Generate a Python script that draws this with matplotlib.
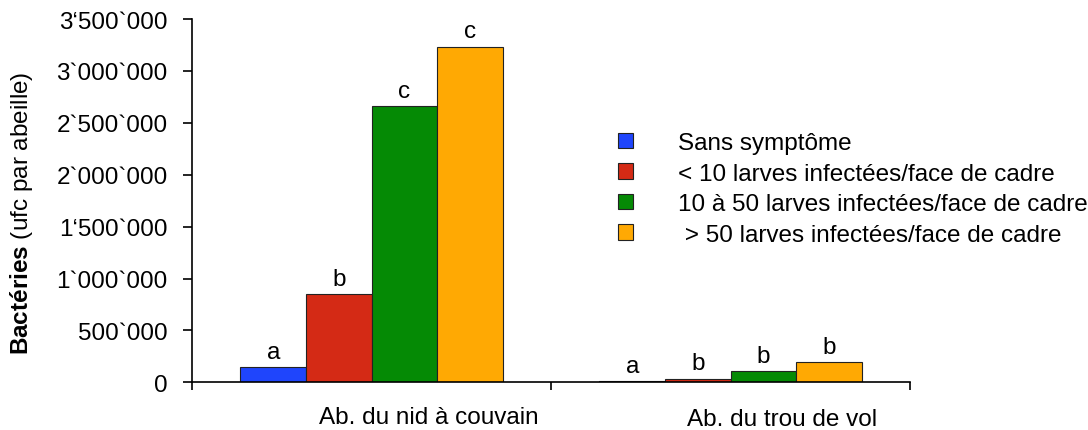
import matplotlib
matplotlib.use("Agg")
import matplotlib.pyplot as plt
import matplotlib.transforms as mtransforms
from matplotlib.patches import Patch
import numpy as np

plt.rcParams['font.family'] = ['Liberation Sans', 'DejaVu Sans']
plt.rcParams['mathtext.fontset'] = 'custom'
plt.rcParams['mathtext.rm'] = 'Liberation Sans'
plt.rcParams['mathtext.bf'] = 'Liberation Sans:bold'

categories = ["Ab. du nid à couvain", "Ab. du trou de vol"]
series_names = ["Sans symptôme",
                "< 10 larves infectées/face de cadre",
                "10 à 50 larves infectées/face de cadre",
                " > 50 larves infectées/face de cadre"]
values = {
    "Sans symptôme": [145000, 8000],
    "< 10": [850000, 36000],
    "10 à 50": [2660000, 112000],
    "> 50": [3235000, 193000],
}
letters = {
    "Sans symptôme": ["a", "a"],
    "< 10": ["b", "b"],
    "10 à 50": ["c", "b"],
    "> 50": ["c", "b"],
}
colors = ["#1F45FC", "#D42A15", "#058A05", "#FFA903"]
edge_colors = ["#222222", "#222222", "#222222", "#222222"]
yticks = [0, 500000, 1000000, 1500000, 2000000, 2500000, 3000000, 3500000]
ytick_labels = ["0", "500`000", "1`000`000", "1‘500`000", "2`000`000",
                "2`500`000", "3`000`000", "3‘500`000"]

FS = 17.5
fig = plt.figure(figsize=(10.88, 4.31), dpi=100)
ax = fig.add_axes([192/1088, 1-383.3/431, (910-192)/1088, (383.3-20)/431])

x = np.arange(len(categories))
width = 0.1825
keys = list(values.keys())
handles = []
for i, k in enumerate(keys):
    pos = x + (i - 1.5) * width
    bars = ax.bar(pos, values[k], width, color=colors[i], edgecolor=edge_colors[i],
                  linewidth=0.8, zorder=2)
    for b, lab in zip(bars, letters[k]):
        ax.annotate(lab, (b.get_x() + b.get_width()/2, b.get_height()),
                    xytext=(0, 3), textcoords="offset points",
                    ha="center", va="bottom", fontsize=FS)
    handles.append(Patch(facecolor=colors[i], edgecolor="#222222", linewidth=0.8))

ax.set_xlim(-0.5, 1.5)
ax.set_ylim(0, 3500000)
ax.set_yticks(yticks)
ax.set_yticklabels(ytick_labels, fontsize=FS)
ax.set_xticks([-0.5, 0.5, 1.5])
ax.set_xticklabels([])
for s in ["top", "right"]:
    ax.spines[s].set_visible(False)
for s in ["left", "bottom"]:
    ax.spines[s].set_linewidth(1.2)
ax.tick_params(axis="y", direction="out", length=6.5, width=1.2, pad=11)
ax.tick_params(axis="x", direction="out", length=6, width=1.2)

trans = mtransforms.blended_transform_factory(ax.transData, fig.transFigure)
label_offsets = [0.16, 0.145]
label_y = [1-418/431, 1-420/431]
for xi, cat, off, ly in zip(x, categories, label_offsets, label_y):
    ax.text(xi + off, ly, cat, transform=trans, ha="center", va="center",
            fontsize=FS, clip_on=False)

fig.text(22/1088, 1-213/431, r"$\bf{Bactéries}$ (ufc par abeille)",
         rotation=90, ha="center", va="center", fontsize=FS)

leg = fig.legend(handles, series_names, loc="upper left",
                 bbox_to_anchor=(618/1088, 1-133/431), frameon=False,
                 fontsize=FS, handlelength=0.62, handleheight=0.62,
                 handletextpad=1.85, labelspacing=0.35, borderpad=0,
                 borderaxespad=0)

fig.savefig("out.png", dpi=100)
